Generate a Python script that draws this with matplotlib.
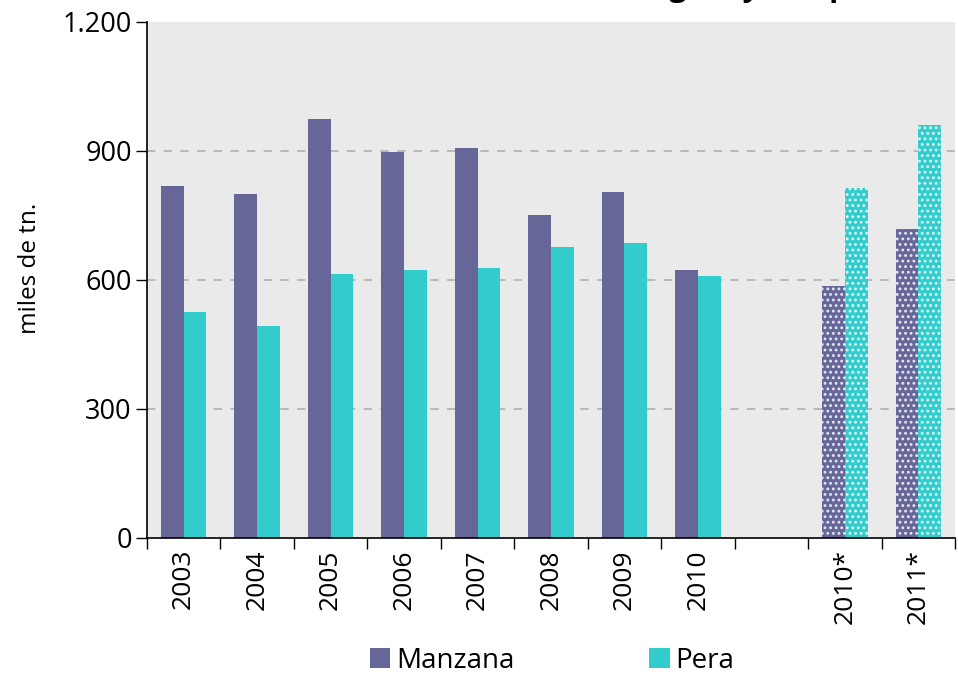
import matplotlib
matplotlib.use("Agg")
import matplotlib.pyplot as plt
from matplotlib.patches import Patch
from matplotlib.ticker import FuncFormatter
import numpy as np

# data (miles de tn.)
categorias = ["2003", "2004", "2005", "2006", "2007", "2008", "2009", "2010", "", "2010*", "2011*"]
manzana = [818, 800, 974, 898, 907, 751, 805, 623, None, 586, 719]
pera    = [526, 493, 614, 623, 628, 677, 686, 609, None, 814, 960]
estimado = [False] * 8 + [False, True, True]

c_manzana = "#666699"
c_pera = "#33CCCC"

plt.rcParams['font.family'] = ['Open Sans', 'DejaVu Sans']
plt.rcParams['hatch.linewidth'] = 1.3

fig = plt.figure(figsize=[9.58, 6.76], dpi=100)
ax = fig.add_axes([147/958, 1 - 538/676, (955 - 147)/958, (538 - 22)/676])
ax.set_facecolor("#EAEAEA")

w = 0.31
x = np.arange(len(categorias))
for i in range(len(categorias)):
    if manzana[i] is None:
        continue
    if estimado[i]:
        ax.bar(x[i] - w/2, manzana[i], w, color=c_manzana, edgecolor=(1, 1, 1, 0.8), hatch="...", linewidth=0, zorder=2)
        ax.bar(x[i] + w/2, pera[i], w, color=c_pera, edgecolor=(1, 1, 1, 0.8), hatch="...", linewidth=0, zorder=2)
    else:
        ax.bar(x[i] - w/2, manzana[i], w, color=c_manzana, linewidth=0, zorder=2)
        ax.bar(x[i] + w/2, pera[i], w, color=c_pera, linewidth=0, zorder=2)

# dashed grid
for yv in [300, 600, 900]:
    ax.axhline(yv, color="#B0B0B0", linestyle=(0, (5, 5)), linewidth=1.2, zorder=1)

ax.set_xlim(-0.5, len(categorias) - 0.5)
ax.set_ylim(0, 1200)
ax.set_yticks([0, 300, 600, 900, 1200])
ax.yaxis.set_major_formatter(FuncFormatter(lambda v, p: "{:,.0f}".format(v).replace(",", ".")))
ax.tick_params(axis="y", labelsize=19.5, length=8, width=1, direction="out", pad=3)

ax.set_xticks(x)
ax.set_xticklabels(categorias, rotation=90, fontsize=19)
ax.set_xticks(np.arange(-0.5, len(categorias)), minor=True)
ax.tick_params(axis="x", which="major", length=0, pad=8)
ax.tick_params(axis="x", which="minor", length=8, width=1, direction="out")

for s in ["top", "right"]:
    ax.spines[s].set_visible(False)
ax.spines["left"].set_linewidth(1.2)
ax.spines["bottom"].set_linewidth(1.2)

fig.text(30/958, 1 - 268/676, "miles de tn.", rotation=90, ha="center", va="center", fontsize=17.5)

# title (clipped at the top like the reference)
fig.text(0.5075, 1 + 4/676, "Evolución de la cosecha comercial en la región y temporada",
         ha="center", va="baseline", fontsize=22, fontweight="bold")

handles = [Patch(facecolor=c_manzana), Patch(facecolor=c_pera)]
fig.legend(handles, ["Manzana", "Pera"], loc="center", bbox_to_anchor=(552/958, 1 - 661/676),
           ncol=2, frameon=False, fontsize=20, handlelength=0.75, handleheight=0.75,
           handletextpad=0.2, columnspacing=4.85)

plt.savefig("out.png", dpi=100)
